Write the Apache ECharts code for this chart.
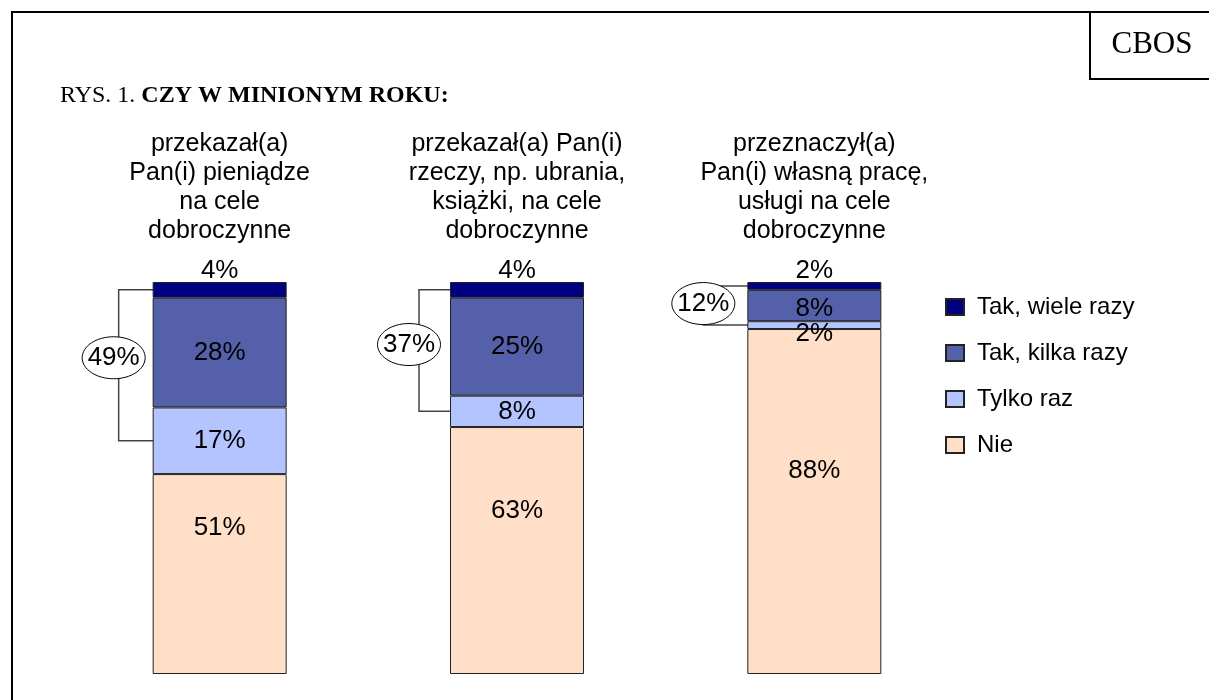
<!DOCTYPE html>
<html>
<head>
<meta charset="utf-8">
<script src="https://cdn.jsdelivr.net/npm/echarts@6/dist/echarts.min.js"></script>
<style>
  html, body { margin: 0; padding: 0; background: #fff; }
  #main { width: 1209px; height: 700px; }
</style>
</head>
<body>
<div id="main"></div>
<script>
// data
var categories = [
  'przekazał(a)\nPan(i) pieniądze\nna cele\ndobroczynne',
  'przekazał(a) Pan(i)\nrzeczy, np. ubrania,\nksiążki, na cele\ndobroczynne',
  'przeznaczył(a)\nPan(i) własną pracę,\nusługi na cele\ndobroczynne'
];
var seriesNames = ['Tak, wiele razy', 'Tak, kilka razy', 'Tylko raz', 'Nie'];
var wieleRazy = [4, 4, 2];
var kilkaRazy = [28, 25, 8];
var tylkoRaz = [17, 8, 2];
var nie = [51, 63, 88];
var totals = [49, 37, 12];

var colors = {
  'Tak, wiele razy': '#000080',
  'Tak, kilka razy': '#5560aa',
  'Tylko raz': '#b4c4ff',
  'Nie': '#ffdfc8'
};

var sans = '"Liberation Sans", Arial, sans-serif';
var serif = '"Liberation Serif", "Times New Roman", serif';

// label nudges as placed in the original (the "Nie" labels sit above centre)
var nieLabelShift = [-46, -40, -31];

function makeSeries(name, values, pos) {
  return {
    name: name,
    type: 'bar',
    stack: 'all',
    barWidth: 134,
    data: values.map(function (v, i) {
      var item = { value: v };
      if (name === 'Tylko raz' && v <= 3) item.label = { offset: [0, 9] };
      if (name === 'Tak, kilka razy' && v <= 10) item.label = { offset: [0, 3] };
      if (name === 'Nie') item.label = { offset: [0, nieLabelShift[i]] };
      return item;
    }),
    itemStyle: { color: colors[name], borderColor: '#222', borderWidth: 1 },
    label: {
      show: true,
      position: pos,
      distance: 0,
      offset: pos === 'top' ? [0, 2] : [0, 0],
      formatter: '{c}%',
      fontFamily: sans,
      fontSize: 26,
      color: '#000'
    }
  };
}

var chart = echarts.init(document.getElementById('main'));

chart.setOption({
  animation: false,
  grid: { left: 71, right: 246, top: 282, bottom: 26 },
  xAxis: {
    type: 'category',
    position: 'top',
    data: categories,
    axisLine: { show: false },
    axisTick: { show: false },
    axisLabel: {
      interval: 0,
      margin: 36,
      fontFamily: sans,
      fontSize: 25,
      lineHeight: 29,
      color: '#000'
    }
  },
  yAxis: { type: 'value', min: 0, max: 100, show: false },
  legend: {
    orient: 'vertical',
    left: 940,
    top: 290,
    itemWidth: 18,
    itemHeight: 16,
    itemGap: 22,
    icon: 'rect',
    data: seriesNames,
    selectedMode: false,
    textStyle: { fontFamily: sans, fontSize: 24, color: '#000', padding: [0, 0, 0, 8] }
  },
  series: [
    makeSeries('Nie', nie, 'inside'),
    makeSeries('Tylko raz', tylkoRaz, 'inside'),
    makeSeries('Tak, kilka razy', kilkaRazy, 'inside'),
    makeSeries('Tak, wiele razy', wieleRazy, 'top')
  ]
});

// frame, CBOS box, title and the bracket/ellipse totals
var graphics = [
  { type: 'rect', shape: { x: 12, y: 12, width: 1300, height: 800 },
    style: { fill: null, stroke: '#000', lineWidth: 2 }, z: 0 },
  { type: 'rect', shape: { x: 1090, y: 12, width: 200, height: 67 },
    style: { fill: null, stroke: '#000', lineWidth: 2 }, z: 0 },
  { type: 'text', x: 1152, y: 45,
    style: { text: 'CBOS', font: '31px ' + serif, fill: '#000',
      textAlign: 'center', textVerticalAlign: 'middle' } },
  { type: 'text', x: 60, y: 96,
    style: {
      text: '{n|RYS. 1. }{b|CZY W MINIONYM ROKU:}',
      textVerticalAlign: 'middle',
      rich: {
        n: { fontFamily: serif, fontSize: 24, color: '#000' },
        b: { fontFamily: serif, fontSize: 24, fontWeight: 'bold', color: '#000' }
      }
    } }
];

var bracketOffset = [34, 31, 44];
var ellipseShift = [5, 10, 0];
for (var i = 0; i < categories.length; i++) {
  var center = chart.convertToPixel({ gridIndex: 0 }, [i, 0])[0];
  var barLeft = center - 67;
  var y1 = chart.convertToPixel({ gridIndex: 0 }, [i, 100 - wieleRazy[i] / 2])[1];
  var y2 = chart.convertToPixel({ gridIndex: 0 }, [i, nie[i] + tylkoRaz[i] / 2])[1];
  var bx = barLeft - bracketOffset[i];
  var cx = bx - ellipseShift[i];
  var cy = y1 + (y2 - y1) * 0.45;
  graphics.push({
    type: 'polyline', z: 1,
    shape: { points: [[barLeft + 3, y1], [bx, y1], [bx, y2], [barLeft + 3, y2]] },
    style: { stroke: '#444', lineWidth: 1.5, fill: null }
  });
  graphics.push({
    type: 'ellipse', z: 10,
    shape: { cx: cx, cy: cy, rx: 31.5, ry: 21 },
    style: { fill: '#fff', stroke: '#000', lineWidth: 1 }
  });
  graphics.push({
    type: 'text', z: 11, x: cx, y: cy,
    style: { text: totals[i] + '%', font: '26px ' + sans, fill: '#000',
      textAlign: 'center', textVerticalAlign: 'middle' }
  });
}

chart.setOption({ graphic: graphics });
</script>
</body>
</html>
